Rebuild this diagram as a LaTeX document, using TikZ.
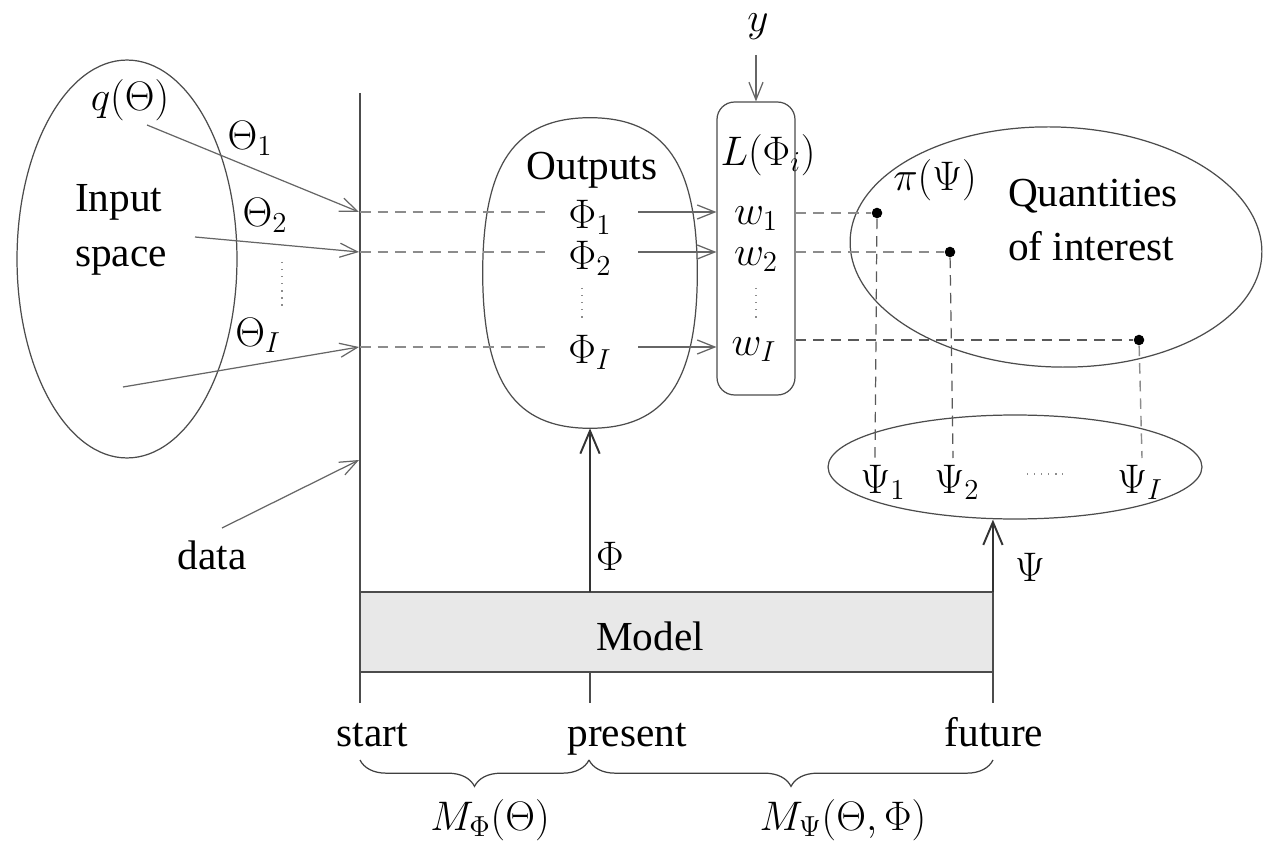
\RequirePackage{fix-cm}
\documentclass[tikz,border=0pt]{standalone}
\usepackage{fontspec}
\setmainfont{Liberation Serif}
\usetikzlibrary{arrows.meta,decorations.pathreplacing,shapes.geometric}
\begin{document}
\begin{tikzpicture}[x=0.02cm,y=-0.02cm,
  font=\fontsize{23.5}{31}\selectfont,
  ln/.style={draw=black!75, line width=0.7pt},
  thick ln/.style={draw=black!70, line width=1.1pt},
  arr/.style={draw=black!60, line width=0.7pt, -{Straight Barb[length=10pt,width=8pt]}},
  bigarr/.style={draw=black!80, line width=1.1pt, -{Straight Barb[length=13pt,width=11pt]}},
  dsh/.style={draw=black!45, line width=0.8pt, dash pattern=on 6pt off 4pt},
  ddsh/.style={draw=black!65, line width=0.7pt, dash pattern=on 6pt off 4pt},
  vdots/.style={draw=black!45, line width=0.8pt, dash pattern=on 0.8pt off 3.2pt},
  lbl/.style={inner sep=0pt, outer sep=0pt},
  shp/.style={draw=black!70, line width=0.7pt, inner sep=0pt},
  dot/.style={circle, fill=black, inner sep=0pt, minimum size=6pt}]
\useasboundingbox (0,0) rectangle (1265,841);

% ---- shapes
\node[shp, ellipse, minimum width=4.4cm, minimum height=7.96cm] (inp) at (127,259) {};
\node[inner sep=0pt, minimum width=4.28cm, minimum height=6.2cm] (out) at (590,273) {};
\draw[shp] (out.north) .. controls (665,118) and (697,163) .. (out.east)
  .. controls (697,383) and (665,428) .. (out.south)
  .. controls (515,428) and (483,383) .. (out.west)
  .. controls (483,163) and (515,118) .. (out.north) -- cycle;
\node[shp, rounded corners=0.35cm, minimum width=1.56cm, minimum height=5.86cm] (lik) at (756,248.5) {};
\node[shp, ellipse, rotate=-2, minimum width=8.24cm, minimum height=4.8cm] (qoi) at (1056,247) {};
\node[shp, ellipse, minimum width=7.48cm, minimum height=2.08cm] (psi) at (1015,467) {};

% ---- time axis lines
\coordinate (st) at (360,93);
\coordinate (sb) at (360,703);
\draw[thick ln] (st) -- (sb);

% ---- model box
\node[draw=black!70, line width=1.1pt, fill=black!9, minimum width=12.66cm, minimum height=1.6cm, inner sep=0pt, outer sep=0pt] (model) at (676.5,632) {};
\node[lbl] (modeltxt) at (650,636) {Model};

\coordinate (pb) at (590,703);
\coordinate (fb) at (993,703);
\draw[bigarr] (model.north -| out.south) -- (out.south);
\draw[thick ln] (model.south -| out.south) -- (pb);
\draw[bigarr] (model.north east) -- (model.north east |- psi.south);
\draw[thick ln] (model.south east) -- (model.south east |- fb);

% ---- input arrows
\coordinate (a1) at (147,125);
\coordinate (a2) at (195,237);
\coordinate (a3) at (123,387);
\coordinate (a4) at (222,528);
\coordinate (e1) at (359,212);
\coordinate (e2) at (359,252);
\coordinate (e3) at (359,347);
\coordinate (e4) at (359,460);
\draw[arr] (a1) -- (e1);
\draw[arr] (a2) -- (e2);
\draw[arr] (a3) -- (e3);
\draw[arr] (a4) -- (e4);

% ---- labels left
\node[lbl] (q) at (130,100) {$q(\Theta)$};
\node[lbl] (th1) at (250,138) {$\Theta_1$};
\node[lbl] (th2) at (265,215) {$\Theta_2$};
\node[lbl] (thI) at (258,335) {$\Theta_I$};
\coordinate (td1) at (282,262);
\coordinate (td2) at (282,307);
\draw[vdots] (td1) -- (td2);
\node[lbl, align=left] (inspace) at (121,230) {Input\\space};
\node[lbl] (data) at (212,555) {data};

% ---- outputs
\node[lbl] (outtxt) at (592,170) {Outputs};
\node[lbl] (p1) at (590,217) {$\Phi_1$};
\node[lbl] (p2) at (590,258) {$\Phi_2$};
\node[lbl] (pI) at (590,352) {$\Phi_I$};
\coordinate (pd1) at (582,288);
\coordinate (pd2) at (582,322);
\draw[vdots] (pd1) -- (pd2);

\draw[dsh] (360,212) -- (545,212);
\draw[dsh] (360,252) -- (545,252);
\draw[dsh] (360,347) -- (545,347);

% ---- likelihood
\node[lbl] (ytxt) at (758,27) {$y$};
\coordinate (ys) at (756,55);
\draw[arr] (ys) -- (lik.north);
\node[lbl] (Ltxt) at (768,155) {$L(\Phi_i)$};
\node[lbl] (w1) at (756,219) {$w_1$};
\node[lbl] (w2) at (756,260) {$w_2$};
\node[lbl] (wI) at (754,350) {$w_I$};
\coordinate (wd1) at (756,288);
\coordinate (wd2) at (756,322);
\draw[vdots] (wd1) -- (wd2);

\draw[arr] (638,212) -- (lik.west |- 0,212);
\draw[arr] (638,252) -- (lik.west |- 0,252);
\draw[arr] (638,347) -- (lik.west |- 0,347);

% ---- quantities of interest
\node[dot] (d1) at (877,213) {};
\node[dot] (d2) at (950,252) {};
\node[dot] (d3) at (1139,340) {};
\draw[dsh] (lik.east |- d1) -- (d1);
\draw[dsh] (lik.east |- d2) -- (d2);
\draw[ddsh] (lik.east |- d3) -- (d3);

\node[lbl] (pitxt) at (935,180) {$\pi(\Psi)$};
\node[lbl, align=left] (qtxt) at (1093,220) {Quantities\\of interest};

\node[lbl] (s1) at (883,482) {$\Psi_1$};
\node[lbl] (s2) at (957,482) {$\Psi_2$};
\node[lbl] (sI) at (1140,482) {$\Psi_I$};
\coordinate (sd1) at (1027,474);
\coordinate (sd2) at (1063,474);
\draw[vdots] (sd1) -- (sd2);

\coordinate (v1) at (875,458);
\coordinate (v2) at (953,458);
\coordinate (v3) at (1142,458);
\draw[ddsh] (d1) -- (v1);
\draw[ddsh] (d2) -- (v2);
\draw[dsh] (d3) -- (v3);

% ---- arrow labels
\node[lbl] (phil) at (610,556) {$\Phi$};
\node[lbl] (psil) at (1030,567) {$\Psi$};

% ---- time labels
\node[lbl, anchor=base] (start) at (372,746) {start};
\node[lbl, anchor=base] (present) at (627,746) {present};
\node[lbl, anchor=base] (future) at (994,746) {future};

\coordinate (b1) at (360,760);
\coordinate (b2) at (589,760);
\coordinate (b3) at (993,760);
\draw[ln, decorate, decoration={brace, mirror, amplitude=15pt}] (b1) -- (b2);
\draw[ln, decorate, decoration={brace, mirror, amplitude=15pt}] (b2) -- (b3);
\node[lbl] (mphi) at (490,820) {$M_\Phi(\Theta)$};
\node[lbl] (mpsi) at (843,820) {$M_\Psi(\Theta,\Phi)$};
\end{tikzpicture}
\end{document}
